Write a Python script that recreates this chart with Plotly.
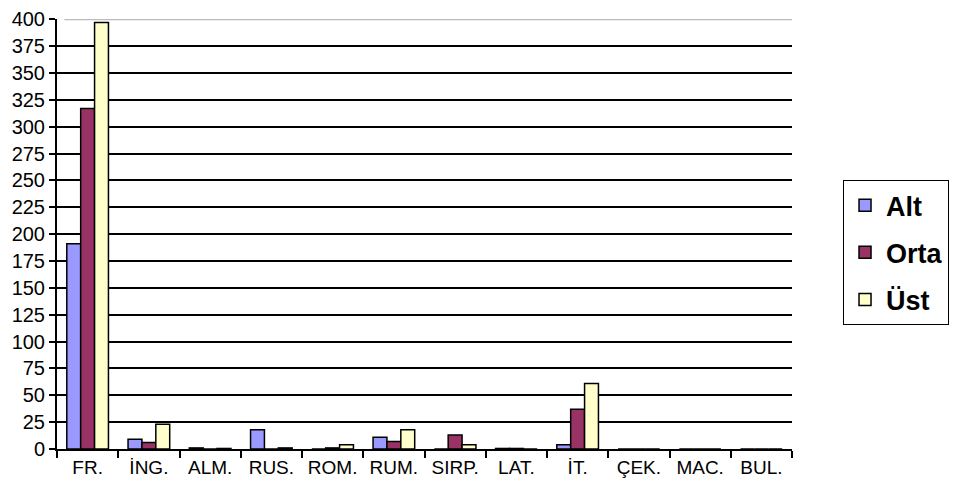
import plotly.graph_objects as go

categories = ["FR.", "İNG.", "ALM.", "RUS.", "ROM.", "RUM.", "SIRP.", "LAT.", "İT.", "ÇEK.", "MAC.", "BUL."]
alt = [191, 9, 1, 18, 0, 11, 0, 0.5, 4, 0, 0, 0]
orta = [317, 6, 0, 0, 1, 7, 13, 0.5, 37, 0, 0, 0]
ust = [397, 23, 0.5, 1, 4, 18, 4, 0, 61, 0, 0, 0]
y_ticks = list(range(0, 401, 25))

series = [("Alt", alt, "#9999FF"), ("Orta", orta, "#993366"), ("Üst", ust, "#FFFFCC")]

fig = go.Figure()
for name, vals, color in series:
    fig.add_trace(go.Bar(
        x=categories, y=vals, name=name, legendgroup=name,
        marker=dict(color=color, line=dict(color="black", width=1.5)),
    ))

font_family = "Liberation Sans, Arial, sans-serif"
fig.update_layout(
    width=962, height=485,
    margin=dict(l=49, r=178, t=11, b=44),
    paper_bgcolor="white", plot_bgcolor="white",
    barmode="group", bargap=0.32, bargroupgap=0,
    font=dict(family=font_family, color="black"),
    showlegend=True,
    legend=dict(
        xref="container", yref="container",
        x=0.868, y=0.645, xanchor="left", yanchor="top",
        bordercolor="black", borderwidth=1, bgcolor="white",
        font=dict(size=27, family=font_family, weight="bold"),
        tracegroupgap=9, itemwidth=32,
    ),
    xaxis=dict(
        type="category", showline=True, linecolor="black", linewidth=2,
        ticks="outside", tickson="boundaries", ticklen=7, tickcolor="black", tickwidth=2,
        tickfont=dict(size=19), tickangle=0, showgrid=False, automargin=False,
    ),
    yaxis=dict(
        range=[0, 400.3], tickvals=y_ticks, showline=True, linecolor="black", linewidth=2,
        ticks="outside", ticklen=6, tickcolor="black", tickwidth=2,
        tickfont=dict(size=20), showgrid=True, gridcolor="black", gridwidth=2,
        zeroline=False, automargin=False, ticklabelstandoff=0,
        ticklabeloverflow="allow",
    ),
)
fig.add_shape(type="line", xref="paper", yref="y", x0=0.01, x1=1, y0=400, y1=400,
              line=dict(color="#BBBBBB", width=2), layer="above")

fig.write_html("out.html")
